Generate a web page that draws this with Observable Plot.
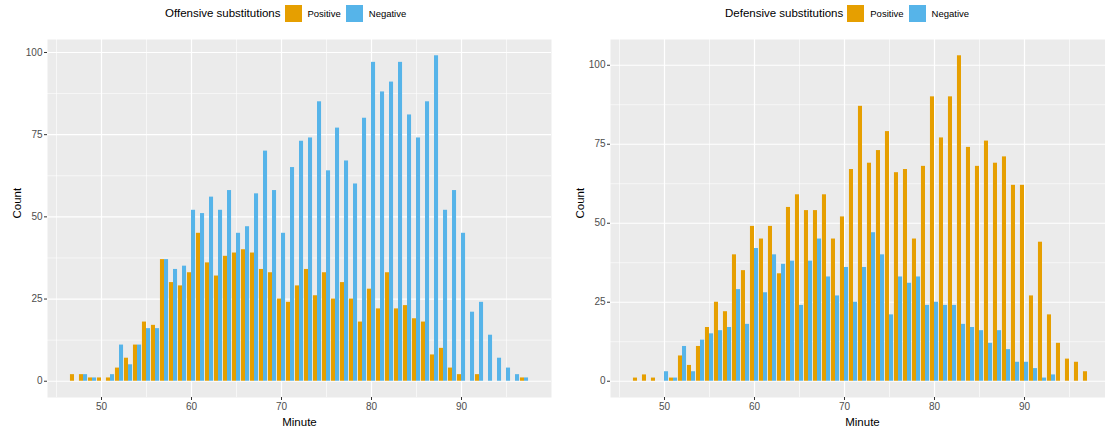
<!DOCTYPE html>
<html>
<head>
<meta charset="utf-8">
<script src="https://cdn.jsdelivr.net/npm/d3@7"></script>
<script src="https://cdn.jsdelivr.net/npm/@observablehq/plot@0.6"></script>
<style>
  html, body { margin: 0; padding: 0; background: #fff; overflow: hidden; }
  #wrap { position: relative; width: 1105px; height: 432px; overflow: hidden; font-family: "Liberation Sans", Arial, sans-serif; }
  .legend { position: absolute; top: 4px; display: flex; align-items: center; height: 18px; white-space: nowrap; }
  .legend .title { font-size: 11.5px; color: #000; margin-right: 4px; }
  .legend .key { width: 17px; height: 17px; margin-right: 6px; }
  .legend .lab { font-size: 9.5px; color: #000; margin-right: 5px; }
  .panel { position: absolute; top: 30px; }
</style>
</head>
<body>
<div id="wrap"></div>
<script>
// ---- Data ----
const minutes = [47,48,49,50,51,52,53,54,55,56,57,58,59,60,61,62,63,64,65,66,67,68,69,70,71,72,73,74,75,76,77,78,79,80,81,82,83,84,85,86,87,88,89,90,91,92,93,94,95,96,97];

const offensivePositive = [2,2,1,1,1,4,7,11,18,17,37,30,29,33,45,36,32,38,39,40,39,34,33,25,24,29,34,26,33,25,30,25,18,28,22,33,22,23,19,18,8,10,4,2,0,2,0,0,0,0,1];
const offensiveNegative = [0,2,1,0,2,11,5,11,16,16,37,34,35,52,51,56,52,58,45,47,57,70,58,45,65,73,74,85,64,77,67,60,80,97,88,91,97,81,74,85,99,52,58,45,21,24,14,7,4,2,1];

const defensivePositive = [1,2,1,0,1,8,5,11,17,25,22,40,35,49,45,49,34,55,59,54,54,59,45,52,67,87,69,73,79,66,67,45,68,90,77,90,103,74,68,76,69,71,62,62,27,44,21,12,7,6,3];
const defensiveNegative = [0,0,0,3,1,11,3,13,15,16,17,29,18,42,28,40,37,38,24,38,45,33,27,36,25,36,47,40,21,33,31,33,24,25,24,24,18,17,16,12,16,10,6,6,4,1,2,0,0,0,0];

const groups = ["Positive", "Negative"];
const colors = ["#E69F00", "#56B4E9"];
const xTicks = [50, 60, 70, 80, 90];
const xMinor = [45, 55, 65, 75, 85, 95];
const yTicks = [0, 25, 50, 75, 100];
const yMinor = [12.5, 37.5, 62.5, 87.5];
const panelTitles = ["Offensive substitutions", "Defensive substitutions"];

// ---- Chart ----
function makePanel(pos, neg, yDomain) {
  const rows = minutes.map((m, i) => ({minute: m, positive: pos[i], negative: neg[i]}));
  return Plot.plot({
    width: 561,
    height: 402,
    marginLeft: 47,
    marginRight: 10,
    marginTop: 9,
    marginBottom: 35,
    style: {fontFamily: "'Liberation Sans', Arial, sans-serif", fontSize: "10px", background: "transparent", overflow: "visible"},
    x: {domain: [44, 100]},
    y: {domain: yDomain},
    marks: [
      Plot.frame({fill: "#EBEBEB", stroke: null}),
      Plot.ruleX(xMinor, {stroke: "#FFFFFF", strokeWidth: 0.6}),
      Plot.ruleY(yMinor, {stroke: "#FFFFFF", strokeWidth: 0.6}),
      Plot.ruleX(xTicks, {stroke: "#FFFFFF", strokeWidth: 1.2}),
      Plot.ruleY(yTicks, {stroke: "#FFFFFF", strokeWidth: 1.2}),
      Plot.rect(rows, {filter: d => d.positive > 0, x1: d => d.minute - 0.45, x2: d => d.minute, y1: () => 0, y2: "positive", fill: colors[0]}),
      Plot.rect(rows, {filter: d => d.negative > 0, x1: d => d.minute, x2: d => d.minute + 0.45, y1: () => 0, y2: "negative", fill: colors[1]}),
      Plot.axisX(xTicks, {tickSize: 3, tickPadding: 2, stroke: "#333333", fill: "#4D4D4D", label: null, fontSize: 10}),
      Plot.axisY(yTicks, {tickSize: 3, tickPadding: 2, stroke: "#333333", fill: "#4D4D4D", label: null, fontSize: 10}),
      Plot.text(["Minute"], {frameAnchor: "bottom", dy: 25, text: d => d, fontSize: 11.5, fill: "#000", lineAnchor: "middle"}),
      Plot.text(["Count"], {frameAnchor: "left", dx: -30.5, rotate: -90, text: d => d, fontSize: 11.5, fill: "#000", lineAnchor: "middle"})
    ]
  });
}

function makeLegend(title, left) {
  const div = document.createElement("div");
  div.className = "legend";
  div.style.left = left + "px";
  const t = document.createElement("span");
  t.className = "title";
  t.textContent = title;
  div.appendChild(t);
  groups.forEach((g, i) => {
    const k = document.createElement("span");
    k.className = "key";
    k.style.background = colors[i];
    div.appendChild(k);
    const l = document.createElement("span");
    l.className = "lab";
    l.textContent = g;
    div.appendChild(l);
  });
  return div;
}

const wrap = document.getElementById("wrap");
const p1 = makePanel(offensivePositive, offensiveNegative, [-4.95, 103.95]);
p1.classList.add("panel");
p1.style.left = "0px";
wrap.appendChild(p1);
const p2 = makePanel(defensivePositive, defensiveNegative, [-5.15, 108.15]);
p2.classList.add("panel");
p2.style.left = "563px";
wrap.appendChild(p2);
wrap.appendChild(makeLegend(panelTitles[0], 165));
wrap.appendChild(makeLegend(panelTitles[1], 725));
</script>
</body>
</html>
